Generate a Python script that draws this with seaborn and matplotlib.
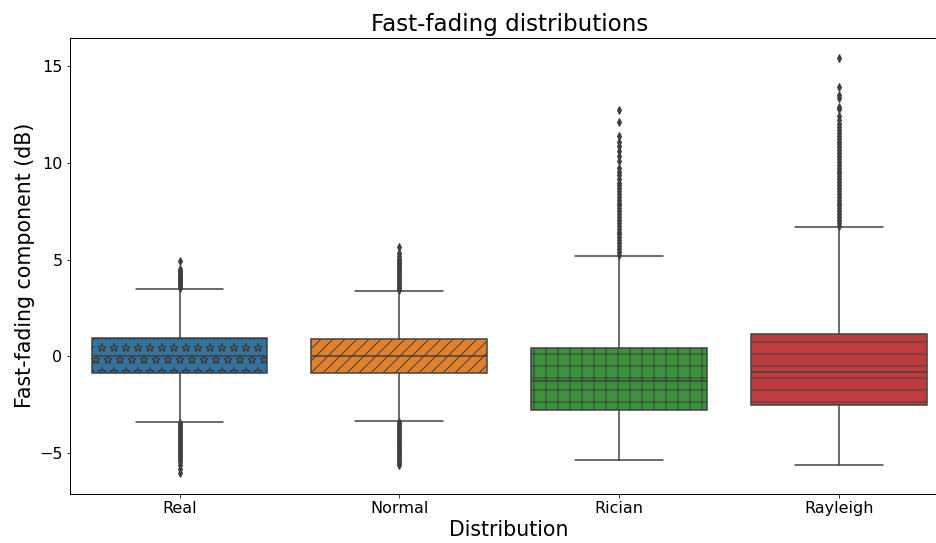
import matplotlib
matplotlib.use('Agg')
import matplotlib.hatch
import matplotlib.pyplot as plt
import seaborn as sns

# categories and box statistics (dB)
categories = ['Real', 'Normal', 'Rician', 'Rayleigh']
hatches = ['*', '//', '+', '-']
q1 = [-0.84, -0.84, -2.77, -2.53]
median = [0.05, 0.0, -1.27, -0.81]
q3 = [0.93, 0.88, 0.45, 1.17]
whisker_lo = [-3.40, -3.35, -5.36, -5.60]
whisker_hi = [3.47, 3.40, 5.17, 6.68]

# outliers
real_fliers = [3.52, 3.6, 3.68, 3.77, 3.85, 3.93, 4.02, 4.1, 4.18, 4.27, 4.35, 4.42, 4.5, 4.95,
               -3.45, -3.55, -3.65, -3.75, -3.85, -3.95, -4.05, -4.15, -4.25, -4.35, -4.45,
               -4.55, -4.65, -4.75, -4.85, -4.95, -5.05, -5.15, -5.25, -5.35, -5.45, -5.6,
               -5.8, -6.03]
normal_fliers = [3.45, 3.55, 3.65, 3.75, 3.85, 3.95, 4.05, 4.15, 4.25, 4.35, 4.45, 4.55, 4.65,
                 4.75, 4.85, 4.95, 5.05, 5.2, 5.35, 5.65,
                 -3.4, -3.5, -3.6, -3.7, -3.8, -3.9, -4.0, -4.1, -4.2, -4.3, -4.4, -4.5, -4.6,
                 -4.7, -4.8, -4.9, -5.0, -5.1, -5.2, -5.3, -5.4, -5.5, -5.62]
rician_fliers = [5.25, 5.4, 5.55, 5.7, 5.85, 6.0, 6.15, 6.3, 6.45, 6.6, 6.75, 6.9, 7.05, 7.2,
                 7.35, 7.5, 7.65, 7.8, 7.95, 8.1, 8.25, 8.4, 8.55, 8.7, 8.85, 8.97, 9.15, 9.35,
                 9.55, 9.74, 10.07, 10.35, 10.6, 10.85, 11.1, 11.36, 12.13, 12.75]
rayleigh_fliers = [6.75, 6.9, 7.05, 7.2, 7.35, 7.5, 7.65, 7.8, 7.95, 8.1, 8.25, 8.4, 8.55, 8.7,
                   8.85, 9.0, 9.15, 9.3, 9.45, 9.6, 9.75, 9.9, 10.05, 10.2, 10.35, 10.5, 10.65,
                   10.8, 10.95, 11.1, 11.25, 11.4, 11.55, 11.7, 11.85, 12.0, 12.2, 12.4, 12.8,
                   12.9, 13.33, 13.5, 13.93, 15.4]
fliers = [real_fliers, normal_fliers, rician_fliers, rayleigh_fliers]

sns.set_style('ticks')
plt.rcParams['font.family'] = ['DejaVu Sans']
plt.rcParams.update({'text.color': 'black', 'axes.labelcolor': 'black',
                     'xtick.color': 'black', 'ytick.color': 'black'})
plt.rcParams['hatch.color'] = '#3f3f3f'
plt.rcParams['hatch.linewidth'] = 1.0
# outlined stars like the reference (newer matplotlib fills them)
matplotlib.hatch.Stars.filled = False

palette = sns.color_palette('tab10', 4, desat=0.75)
line_gray = '#3f3f3f'

stats = []
for i, name in enumerate(categories):
    stats.append({'label': name, 'q1': q1[i], 'med': median[i], 'q3': q3[i],
                  'whislo': whisker_lo[i], 'whishi': whisker_hi[i], 'fliers': fliers[i]})

fig = plt.figure(figsize=(13, 543 / 72), dpi=72)
# the reference axes runs a little past the right edge of the image
ax = fig.add_axes([69.6 / 936, 49 / 543, 879.2 / 936, 456.5 / 543])

bp = ax.bxp(stats, positions=range(len(categories)), widths=0.8, patch_artist=True,
            boxprops=dict(linewidth=1.5, edgecolor=line_gray),
            medianprops=dict(color=line_gray, linewidth=1.5),
            whiskerprops=dict(color=line_gray, linewidth=1.5),
            capprops=dict(color=line_gray, linewidth=1.5),
            flierprops=dict(marker='d', markersize=5, markerfacecolor=line_gray,
                            markeredgecolor=line_gray, linestyle='none'))

for patch, color, hatch in zip(bp['boxes'], palette, hatches):
    patch.set_facecolor(color)
    patch.set_hatch(hatch)

ax.set_xlim(-0.5, len(categories) - 0.5)
ax.set_xticks(range(len(categories)))
ax.set_xticklabels(categories)
ax.tick_params(axis='both', labelsize=16)
ax.set_title('Fast-fading distributions', fontsize=23)
ax.set_xlabel('Distribution', fontsize=20.5)
ax.set_ylabel('Fast-fading component (dB)', fontsize=20.5)
for s in ax.spines.values():
    s.set_color('black')
    s.set_linewidth(1.0)

plt.savefig('out.png', dpi=72)
plt.close()
